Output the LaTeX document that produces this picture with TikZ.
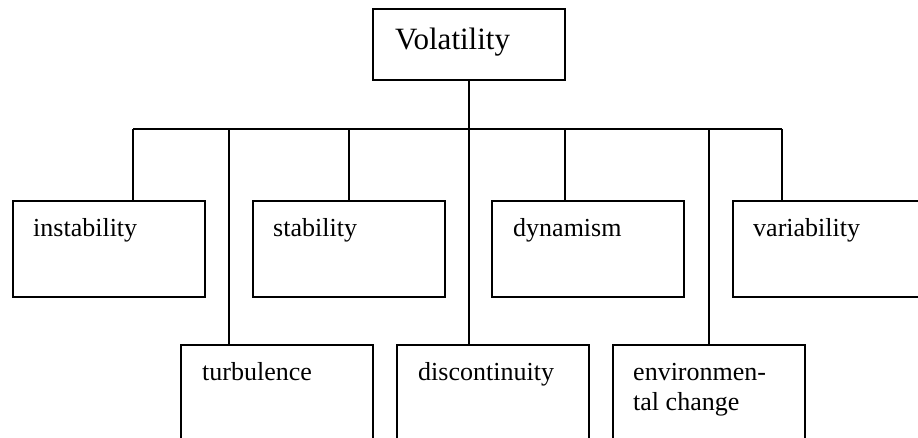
\documentclass[tikz,border=0pt]{standalone}
\usepackage{fontspec}
\setmainfont{Liberation Serif}
\begin{document}
\begin{tikzpicture}[x=1pt,y=-1pt,
  box/.style={draw,line width=1.8pt,rectangle,inner sep=0pt,outer sep=0pt,anchor=north west,minimum width=192pt,minimum height=96pt},
  lbl/.style={anchor=base west,inner sep=0pt,font=\fontsize{26}{30}\selectfont},
  conn/.style={line width=1.8pt}]
\useasboundingbox (0,0) rectangle (918,438);
\clip (0,0) rectangle (918,438);
% root
\node[box,minimum height=71pt] (vol) at (373,9) {};
\node[lbl,font=\fontsize{31}{36}\selectfont] (volt) at ([xshift=22pt,yshift=-41pt]vol.north west) {Volatility};
% top row
\node[box] (inst) at (13,201) {};
\node[box] (stab) at (253,201) {};
\node[box] (dyn) at (492,201) {};
\node[box] (var) at (733,201) {};
\node[lbl] (instt) at ([xshift=20pt,yshift=-36pt]inst.north west) {instability};
\node[lbl] (stabt) at ([xshift=20pt,yshift=-36pt]stab.north west) {stability};
\node[lbl] (dynt) at ([xshift=21pt,yshift=-36pt]dyn.north west) {dynamism};
\node[lbl] (vart) at ([xshift=20pt,yshift=-36pt]var.north west) {variability};
% bottom row
\node[box,minimum height=130pt] (turb) at (181,345) {};
\node[box,minimum height=130pt] (disc) at (397,345) {};
\node[box,minimum height=130pt] (env) at (613,345) {};
\node[lbl] (turbt) at ([xshift=21pt,yshift=-35pt]turb.north west) {turbulence};
\node[lbl] (disct) at ([xshift=21pt,yshift=-35pt]disc.north west) {discontinuity};
\node[lbl] (envt1) at ([xshift=20pt,yshift=-35pt]env.north west) {environmen-};
\node[lbl] (envt2) at ([xshift=20pt,yshift=-65pt]env.north west) {tal change};
% connectors
\coordinate (c1) at (133,129);
\coordinate (c2) at (229,129);
\coordinate (c3) at (349,129);
\coordinate (c4) at (469,129);
\coordinate (c5) at (565,129);
\coordinate (c6) at (709,129);
\coordinate (c7) at (782,129);
\draw[conn] (vol.south) -- (vol.south |- c4);
\draw[conn] (c1) -- (c7);
\draw[conn] (c1) -- (c1 |- inst.north);
\draw[conn] (c2) -- (c2 |- turb.north);
\draw[conn] (c3) -- (c3 |- stab.north);
\draw[conn] (c4) -- (c4 |- disc.north);
\draw[conn] (c5) -- (c5 |- dyn.north);
\draw[conn] (c6) -- (c6 |- env.north);
\draw[conn] (c7) -- (c7 |- var.north);
\end{tikzpicture}
\end{document}
